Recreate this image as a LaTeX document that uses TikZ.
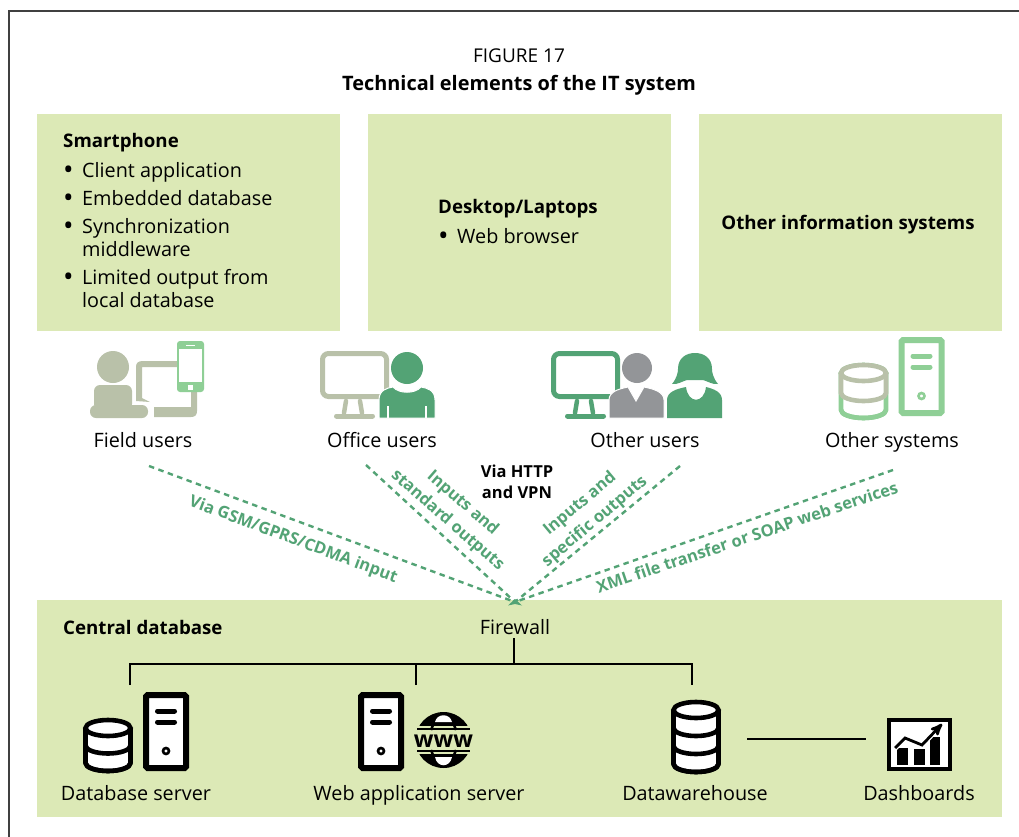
\documentclass[tikz,border=0pt]{standalone}
\usepackage{fontspec}
\usetikzlibrary{arrows}
\setmainfont{Open Sans}
\definecolor{panelgreen}{HTML}{DCE9B6}
\definecolor{darkgreen}{HTML}{53A375}
\definecolor{lightgreen}{HTML}{8FCF96}
\definecolor{khaki}{HTML}{B9C1A9}
\definecolor{mangray}{HTML}{939598}
\newcommand{\bul}{\makebox[19pt][l]{\raisebox{-2pt}{\fontsize{28}{28}\selectfont\textbullet}}}
\newcommand{\dbstack}[4]{
    \begin{scope}[shift={(#1)},line width=4.6pt,draw=#4]
        \draw[fill=white] (-22.5,0) -- (-22.5,#2) arc[start angle=180,end angle=360,x radius=22.5pt,y radius=8pt] -- (22.5,0);
        \foreach \tiery in {#3}
            \draw (-22.5,\tiery) arc[start angle=180,end angle=360,x radius=22.5pt,y radius=8pt];
        \draw[fill=white] (0,0) ellipse [x radius=22.5pt,y radius=8pt];
    \end{scope}
}
\newcommand{\serverbox}[2]{
    \begin{scope}[shift={(#1)},draw=#2,line cap=round]
        \draw[line width=6pt,fill=white,rounded corners=1.5pt] (-20,3) rectangle (20,76);
        \draw[line width=5pt] (-8.5,19) -- (8.5,19);
        \draw[line width=5pt] (-8.5,30) -- (8.5,30);
        \draw[line width=2.6pt,fill=white] (0,59) circle (3pt);
    \end{scope}
}
\newcommand{\monitorbox}[2]{
    \begin{scope}[shift={(#1)},draw=#2,line cap=round]
        \draw[line width=5pt,rounded corners=6pt] (2.5,2.5) rectangle (66.5,45.5);
        \draw[line width=4.5pt] (26,50) -- (24,62);
        \draw[line width=4.5pt] (40,50) -- (42,62);
        \draw[line width=5pt] (16.5,65) -- (52.5,65);
    \end{scope}
}
\begin{document}
\begin{tikzpicture}[x=1pt,y=-1pt,
                    panel/.style={fill=panelgreen},
                    plain text/.style={inner sep=0pt,text height=14pt,text depth=4pt,font=\fontsize{19.8}{23}\selectfont},
                    item text/.style={inner sep=0pt,anchor=west,align=left,font=\fontsize{19.8}{23}\selectfont},
                    head text/.style={inner sep=0pt,text height=14pt,text depth=4pt,anchor=west,font=\fontsize{18.7}{23}\selectfont\bfseries},
                    link label/.style={inner sep=0pt,text=darkgreen,align=center,font=\fontsize{16.5}{23}\selectfont\bfseries},
                    link/.style={draw=darkgreen,line width=2.4pt,dash pattern=on 5.5pt off 4.5pt},
                    bus/.style={draw=black,line width=2pt}]
    \useasboundingbox (0,0) rectangle (1019,837);
    \fill[white] (0,0) rectangle (1019,837);
    \draw[line width=2pt,black!75] (8.5,837) -- (8.5,11.5) -- (1019,11.5);

    \node[plain text,font=\fontsize{19}{23}\selectfont] (figno) at (519,58) {FIGURE 17};
    \node[plain text,font=\fontsize{19.9}{23}\selectfont\bfseries] (figtitle) at (519,86) {Technical elements of the IT system};

    \fill[panel] (37,114) rectangle (340,331);
    \fill[panel] (368,114) rectangle (671,331);
    \fill[panel] (699,114) rectangle (1002,331);
    \fill[panel] (37,600) rectangle (1002,817);

    \node[head text] (smartphone) at (63,143) {Smartphone};
    \node[item text] (client) at (63,172) {\bul Client application};
    \node[item text] (embedded) at (63,199) {\bul Embedded database};
    \node[item text] (sync) at (63,237.5) {\bul Synchronization\\\hspace*{19pt}middleware};
    \node[item text] (limited) at (63,288.5) {\bul Limited output from\\\hspace*{19pt}local database};
    \node[head text] (desktop) at (438,208) {Desktop/Laptops};
    \node[item text] (browser) at (438,237) {\bul Web browser};
    \node[head text,anchor=center] (othersys) at (848,224) {Other information systems};

    % field user
    \fill[khaki] (113,367) circle (16pt);
    \fill[khaki,rounded corners=6pt] (94,410) -- (94,385) -- (132,385) -- (132,410) -- cycle;
    \fill[khaki,rounded corners=6pt] (90,418) -- (90,405) -- (148,405) -- (148,418) -- cycle;
    \fill[khaki] (177,361) -- (143,361) .. controls (138,361) and (136,363) .. (136,367) -- (136,401) -- (150,402) -- (142,398) -- (142,367) -- (177,367) -- cycle;
    \fill[khaki] (154,407) -- (191,407) -- (191,390) -- (197,390) -- (197,411) .. controls (197,415) and (195,417) .. (191,417) -- (154,417) -- cycle;
    \fill[lightgreen,rounded corners=3pt] (177,341) rectangle (204,392);
    \fill[white] (179,349) rectangle (202,382);
    \fill[white] (188,385) rectangle (192.5,389.5);
    \fill[white] (186,344.5) rectangle (195,345.8);

    % office user
    \monitorbox{320,351}{khaki}
    \fill[darkgreen,draw=white,line width=1pt] (379,418) -- (379,400) .. controls (379,390) and (387,388) .. (393,387) .. controls (399,394) and (415,394) .. (421,387) .. controls (427,388) and (435,390) .. (435,400) -- (435,418) -- cycle;
    \draw[white,line width=2.5pt] (388,406) -- (388,418);
    \draw[white,line width=2.5pt] (426,406) -- (426,418);
    \fill[darkgreen] (407,368) circle (16pt);

    % other users
    \monitorbox{551,351}{darkgreen}
    \fill[mangray,draw=white,line width=1pt] (609,418) -- (609,400) .. controls (609,392) and (618,389) .. (628,387) -- (636,401) -- (644,387) .. controls (654,389) and (664,392) .. (664,400) -- (664,418) -- cycle;
    \fill[mangray] (637,368) circle (15pt);
    \fill[darkgreen] (667,418) -- (667,400) .. controls (667,392) and (676,389) .. (686,387) .. controls (688,404) and (704,404) .. (706,387) .. controls (714,389) and (722,392) .. (722,400) -- (722,418) -- cycle;
    \fill[darkgreen] (672,384) .. controls (677,378) and (678,372) .. (678,369) .. controls (678,358) and (686,353) .. (695,353) .. controls (704,353) and (712,358) .. (712,369) .. controls (712,372) and (713,378) .. (718,384) .. controls (713,385) and (707,381) .. (703,380) -- (687,380) .. controls (683,381) and (677,385) .. (672,384) -- cycle;

    % other systems
    \dbstack{863.5,373}{37}{37}{lightgreen}
    \begin{scope}[shift={(863.5,373)},line width=4.6pt,draw=khaki]
        \draw[fill=white] (-22.5,0) -- (-22.5,20) arc[start angle=180,end angle=360,x radius=22.5pt,y radius=8pt] -- (22.5,0);
        \draw[fill=white] (0,0) ellipse [x radius=22.5pt,y radius=8pt];
    \end{scope}
    \serverbox{921.5,337}{lightgreen}

    \node[plain text] (field) at (143,442) {Field users};
    \node[plain text] (office) at (382,442) {Office users};
    \node[plain text] (other) at (645,442) {Other users};
    \node[plain text] (systems) at (892,442) {Other systems};

    \coordinate (apex) at (515,602);
    \coordinate (fieldend) at (149,466);
    \coordinate (officeend) at (366,465);
    \coordinate (otherend) at (680,466);
    \coordinate (systemsend) at (893,470);
    \draw[link] (fieldend) -- (apex);
    \draw[link] (officeend) -- (apex);
    \draw[link] (otherend) -- (apex);
    \draw[link] (systemsend) -- (apex);
    \fill[darkgreen] (508,605.5) -- (515,599) -- (522,605.5) -- (515,604) -- cycle;

    \node[link label,rotate=-20.4] (gsm) at (293,540) {Via GSM/GPRS/CDMA input};
    \node[link label,rotate=-41] (standard) at (455,512) {Inputs and\\standard outputs};
    \node[link label,rotate=40] (specific) at (587.5,513) {Inputs and\\specific outputs};
    \node[link label,rotate=18.6] (xml) at (747,537) {XML file transfer or SOAP web services};
    \node[inner sep=0pt,align=center,font=\fontsize{16.5}{21}\selectfont\bfseries] (http) at (517,482) {Via HTTP\\and VPN};

    \node[head text] (central) at (63,629) {Central database};
    \node[plain text] (firewall) at (515,629) {Firewall};

    \coordinate (busjoin) at (513.5,664);
    \coordinate (dbdrop) at (130,685);
    \coordinate (webdrop) at (416,685);
    \coordinate (dwdrop) at (692,685);
    \draw[bus] (dbdrop) |- (busjoin) -| (dwdrop);
    \draw[bus] (webdrop) -- (webdrop |- busjoin);
    \draw[bus] (busjoin |- firewall.south) -- (busjoin);

    \dbstack{108,728}{35}{17.5,35}{black}
    \serverbox{166,692}{black}
    \serverbox{381,692}{black}

    % globe
    \fill[black] (443.5,740) circle (28pt);
    \fill[white] (435,722) .. controls (437,713) and (450,713) .. (452,722) -- cycle;
    \fill[white] (435,757) .. controls (437,768) and (450,768) .. (452,757) -- cycle;
    \fill[panelgreen] (412,726) rectangle (475,754);
    \draw[black,line width=2pt] (417,729) -- (470,729);
    \draw[black,line width=2pt] (417,751) -- (470,751);
    \draw[black,line width=2.5pt] (433,725) -- (431,730);
    \draw[black,line width=2.5pt] (454,725) -- (456,730);
    \draw[black,line width=2.5pt] (433,755) -- (431,750);
    \draw[black,line width=2.5pt] (454,755) -- (456,750);
    \node[inner sep=0pt,font=\fontsize{23}{24}\selectfont\bfseries] (www) at (443.5,741) {www};

    \dbstack{696,710}{54}{18,36,54}{black}

    % dashboard
    \draw[line width=4.5pt,fill=white] (889,720) rectangle (950,769);
    \fill[black] (897,748) rectangle (908,765);
    \fill[black] (914,749) rectangle (925,765);
    \fill[black] (930,737) rectangle (940,765);
    \draw[white,line width=5.5pt] (895,748) -- (905,738) -- (922,745) -- (935,731);
    \draw[->,>=stealth',line width=2.8pt] (895,748) -- (905,738) -- (922,745) -- (942,724);

    \coordinate (dwlink) at (747,739);
    \coordinate (dashlink) at (866,739);
    \draw[bus] (dwlink) -- (dashlink);

    \node[plain text] (dbserver) at (136,795) {Database server};
    \node[plain text] (webserver) at (419,795) {Web application server};
    \node[plain text] (warehouse) at (695,795) {Datawarehouse};
    \node[plain text] (dashboards) at (919,795) {Dashboards};
\end{tikzpicture}
\end{document}
